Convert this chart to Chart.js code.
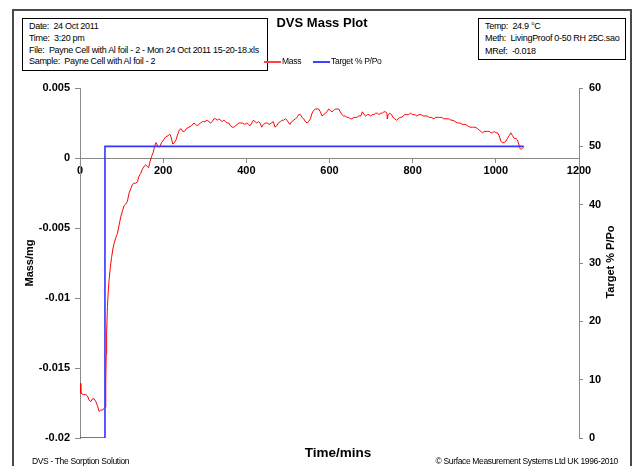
<!DOCTYPE html>
<html>
<head>
<meta charset="utf-8">
<script src="https://cdn.jsdelivr.net/npm/chart.js@4.4.1/dist/chart.umd.min.js"></script>
<style>
body { margin: 0; background: #fff; }
#wrap { position: relative; width: 633px; height: 466px; overflow: hidden; font-family: 'Liberation Sans', Arial, sans-serif; color: #000; }
#frame { position: absolute; left: 12px; top: 9px; width: 616px; height: 480px; border: 2px solid #4a4a4a; }
canvas { position: absolute; left: 0; top: 0; }
.box { position: absolute; border: 1px solid #000; background: #fff; font-size: 9px; letter-spacing: -0.3px; box-sizing: border-box; white-space: nowrap; }
#info { left: 22px; top: 18px; width: 246px; height: 53px; padding: 2px 0 0 6px; line-height: 11.8px; }
#meth { left: 478px; top: 18px; width: 148px; height: 42px; padding: 1px 0 0 6px; line-height: 12.4px; }
#title { position: absolute; left: 272px; top: 15px; width: 100px; text-align: center; font: bold 13px 'Liberation Sans', Arial, sans-serif; }
.leg { position: absolute; top: 56px; font-size: 8.5px; letter-spacing: -0.3px; white-space: nowrap; }
.leg i { display: inline-block; width: 17px; height: 2px; vertical-align: middle; margin-right: 1px; }
#xtitle { position: absolute; left: 288px; top: 445px; width: 100px; text-align: center; font: bold 13.5px 'Liberation Sans', Arial, sans-serif; }
#ytitle2 { position: absolute; left: 560px; top: 256px; width: 100px; text-align: center; font: bold 11px 'Liberation Sans', Arial, sans-serif; transform: rotate(-90deg); }
.foot { position: absolute; top: 456px; font-size: 8.5px; letter-spacing: -0.35px; white-space: nowrap; }
</style>
</head>
<body>
<div id="wrap">
  <div id="frame"></div>
  <canvas id="dvsChart" width="633" height="466"></canvas>
  <div class="box" id="info">Date:&nbsp; 24 Oct 2011<br>Time:&nbsp; 3:20 pm<br>File:&nbsp; Payne Cell with Al foil - 2 - Mon 24 Oct 2011 15-20-18.xls<br>Sample:&nbsp; Payne Cell with Al foil - 2</div>
  <div class="box" id="meth">Temp:&nbsp; 24.9 °C<br>Meth:&nbsp; LivingProof 0-50 RH 25C.sao<br>MRef:&nbsp; -0.018</div>
  <div id="title">DVS Mass Plot</div>
  <div class="leg" style="left:264px"><i style="background:#ff4040"></i>Mass</div>
  <div class="leg" style="left:313px"><i style="background:#4040ff"></i>Target % P/Po</div>
  <div id="xtitle">Time/mins</div>
  <div id="ytitle2">Target % P/Po</div>
  <div class="foot" style="left:32px">DVS - The Sorption Solution</div>
  <div class="foot" style="right:15px">© Surface Measurement Systems Ltd UK 1996-2010</div>
</div>
<script>
// values
var massTimes = [0, 2, 8, 14, 18, 22, 26, 30, 34, 38, 42, 46, 50, 54, 58, 61, 62, 63, 64, 66, 68, 70, 73, 76, 79, 82, 86, 90, 94, 98,
  102, 106, 110, 114, 118, 122, 126, 130, 134, 138, 142, 146, 150, 154, 158, 162, 165, 168, 172, 176, 180, 183, 186, 189, 192, 196,
  201, 206, 212, 216, 219, 223, 227, 231, 235, 239, 243, 247, 251, 256, 262, 268, 274, 278, 282, 286, 290, 295, 300, 306, 310, 314,
  318, 322, 326, 330, 334, 338, 342, 346, 350, 354, 358, 362, 366, 370, 374, 378, 382, 386, 390, 396, 401, 405, 409, 413, 417, 421,
  425, 429, 433, 437, 441, 446, 450, 455, 460, 465, 469, 473, 477, 482, 486, 490, 494, 498, 502, 505, 509, 514, 518, 522, 526, 530,
  534, 538, 542, 546, 550, 554, 558, 562, 566, 570, 574, 578, 582, 586, 590, 594, 598, 602, 606, 610, 614, 618, 622, 626, 630, 634,
  638, 642, 646, 650, 654, 658, 662, 666, 670, 675, 679, 683, 687, 691, 695, 699, 703, 707, 711, 715, 719, 723, 727, 731, 735, 738,
  739, 741, 745, 749, 753, 757, 761, 765, 769, 773, 777, 781, 785, 790, 795, 800, 805, 810, 815, 820, 825, 830, 835, 840, 845, 851,
  855, 860, 865, 870, 875, 880, 887, 892, 897, 902, 908, 914, 920, 926, 932, 938, 944, 950, 956, 960, 964, 968, 972, 976, 980, 984,
  988, 992, 996, 1000, 1004, 1008, 1012, 1016, 1020, 1024, 1028, 1032, 1036, 1040, 1044, 1048, 1052, 1055, 1058, 1061, 1064, 1067];
var massValues = [-0.0161, -0.0168, -0.0169, -0.0169, -0.0170, -0.0173, -0.0174, -0.0172, -0.0172, -0.0174, -0.0177, -0.0181, -0.0180,
  -0.0180, -0.0179, -0.0178, -0.0160, -0.0140, -0.0125, -0.0106, -0.0095, -0.0087, -0.0078, -0.0071, -0.0065, -0.0061, -0.0057,
  -0.0054, -0.0048, -0.0042, -0.0038, -0.0034, -0.0033, -0.0031, -0.0025, -0.0022, -0.0019, -0.0018, -0.0018, -0.0017, -0.0013,
  -0.0011, -0.0008, -0.0006, -0.0005, -0.0006, -0.0007, -0.0003, 0.0001, 0.0004, 0.0009, 0.0011, 0.0009, 0.0008, 0.0008, 0.0011,
  0.0013, 0.0015, 0.0016, 0.0017, 0.0015, 0.0010, 0.0011, 0.0013, 0.0017, 0.0020, 0.0021, 0.0019, 0.0019, 0.0021, 0.0022, 0.0023,
  0.0025, 0.0024, 0.0023, 0.0024, 0.0025, 0.0026, 0.0026, 0.0027, 0.0026, 0.0025, 0.0026, 0.0028, 0.0028, 0.0027, 0.0028, 0.0027,
  0.0026, 0.0027, 0.0026, 0.0025, 0.0025, 0.0023, 0.0022, 0.0022, 0.0023, 0.0024, 0.0025, 0.0025, 0.0025, 0.0024, 0.0025, 0.0024,
  0.0023, 0.0025, 0.0027, 0.0026, 0.0025, 0.0026, 0.0025, 0.0022, 0.0024, 0.0025, 0.0025, 0.0024, 0.0025, 0.0026, 0.0022, 0.0023,
  0.0025, 0.0026, 0.0027, 0.0027, 0.0028, 0.0027, 0.0025, 0.0024, 0.0026, 0.0027, 0.0028, 0.0029, 0.0031, 0.0031, 0.0029, 0.0028,
  0.0026, 0.0025, 0.0026, 0.0028, 0.0032, 0.0034, 0.0035, 0.0035, 0.0035, 0.0033, 0.0030, 0.0031, 0.0032, 0.0033, 0.0035, 0.0034,
  0.0033, 0.0034, 0.0035, 0.0035, 0.0035, 0.0033, 0.0031, 0.0030, 0.0030, 0.0029, 0.0029, 0.0028, 0.0028, 0.0029, 0.0029, 0.0029,
  0.0030, 0.0030, 0.0033, 0.0031, 0.0030, 0.0031, 0.0031, 0.0030, 0.0031, 0.0031, 0.0032, 0.0032, 0.0031, 0.0032, 0.0032, 0.0033,
  0.0033, 0.0032, 0.0028, 0.0031, 0.0032, 0.0031, 0.0029, 0.0028, 0.0027, 0.0028, 0.0029, 0.0029, 0.0030, 0.0031, 0.0031, 0.0031,
  0.0032, 0.0031, 0.0031, 0.0030, 0.0031, 0.0031, 0.0030, 0.0030, 0.0030, 0.0029, 0.0029, 0.0028, 0.0029, 0.0029, 0.0029, 0.0029,
  0.0028, 0.0028, 0.0028, 0.0027, 0.0027, 0.0026, 0.0025, 0.0025, 0.0024, 0.0024, 0.0023, 0.0022, 0.0022, 0.0022, 0.0021, 0.0020,
  0.0019, 0.0018, 0.0019, 0.0019, 0.0019, 0.0019, 0.0018, 0.0018, 0.0019, 0.0018, 0.0018, 0.0016, 0.0012, 0.0011, 0.0011, 0.0012,
  0.0014, 0.0016, 0.0018, 0.0016, 0.0014, 0.0014, 0.0013, 0.0010, 0.0007, 0.0006, 0.0007, 0.0008];

var targetTimes = [0, 60, 60, 1067];
var targetValues = [0, 0, 50, 50];

var timeTicks = [0, 200, 400, 600, 800, 1000, 1200];
var massTicks = [-0.02, -0.015, -0.01, -0.005, 0, 0.005];
var massTickLabels = ['-0.02', '-0.015', '-0.01', '-0.005', '0', '0.005'];
var targetTicks = [0, 10, 20, 30, 40, 50, 60];

function pairs(xs, ys) {
    return xs.map(function(x, i) { return { x: x, y: ys[i] }; });
}

var axisColor = '#8a8a8a';
var tickFont = { family: "'Liberation Sans', Arial, sans-serif", size: 11, weight: 'bold' };

var ctx = document.getElementById('dvsChart').getContext('2d');
var dvsChart = new Chart(ctx, {
    type: 'line',
    data: {
        datasets: [{
            label: 'Target % P/Po',
            data: pairs(targetTimes, targetValues),
            borderColor: '#3535ff',
            borderWidth: 1.6,
            pointRadius: 0,
            yAxisID: 'y1'
        }, {
            label: 'Mass',
            data: pairs(massTimes, massValues),
            borderColor: '#ff0000',
            borderWidth: 1,
            pointRadius: 0,
            yAxisID: 'y'
        }]
    },
    options: {
        responsive: false,
        animation: false,
        devicePixelRatio: 1,
        layout: { padding: { top: 88, left: 19, right: 12, bottom: 28 } },
        plugins: {
            legend: { display: false },
            title: { display: false },
            tooltip: { enabled: false }
        },
        scales: {
            x: {
                type: 'linear',
                min: 0,
                max: 1200,
                position: { y: 0 },
                afterBuildTicks: function(s) { s.ticks = timeTicks.map(function(v) { return { value: v }; }); },
                ticks: {
                    font: tickFont, color: '#000', padding: 2, maxRotation: 0,
                    callback: function(v, i) { return String(timeTicks[i]); }
                },
                grid: { drawOnChartArea: false, tickLength: 4, color: axisColor },
                border: { color: axisColor }
            },
            y: {
                position: 'left',
                min: -0.02,
                max: 0.005,
                afterBuildTicks: function(s) { s.ticks = massTicks.map(function(v) { return { value: v }; }); },
                afterFit: function(s) { s.width = 61; },
                ticks: {
                    font: tickFont, color: '#000', padding: 5,
                    callback: function(v, i) { return massTickLabels[i]; }
                },
                grid: { drawOnChartArea: false, tickLength: 5, color: axisColor },
                border: { color: axisColor },
                title: { display: true, text: 'Mass/mg', color: '#000', font: tickFont }
            },
            y1: {
                position: 'right',
                min: 0,
                max: 60,
                afterBuildTicks: function(s) { s.ticks = targetTicks.map(function(v) { return { value: v }; }); },
                afterFit: function(s) { s.width = 42; },
                ticks: { font: tickFont, color: '#000', padding: 6 },
                grid: { drawOnChartArea: false, tickLength: 4, color: axisColor },
                border: { color: axisColor }
            }
        }
    }
});
</script>
</body>
</html>
